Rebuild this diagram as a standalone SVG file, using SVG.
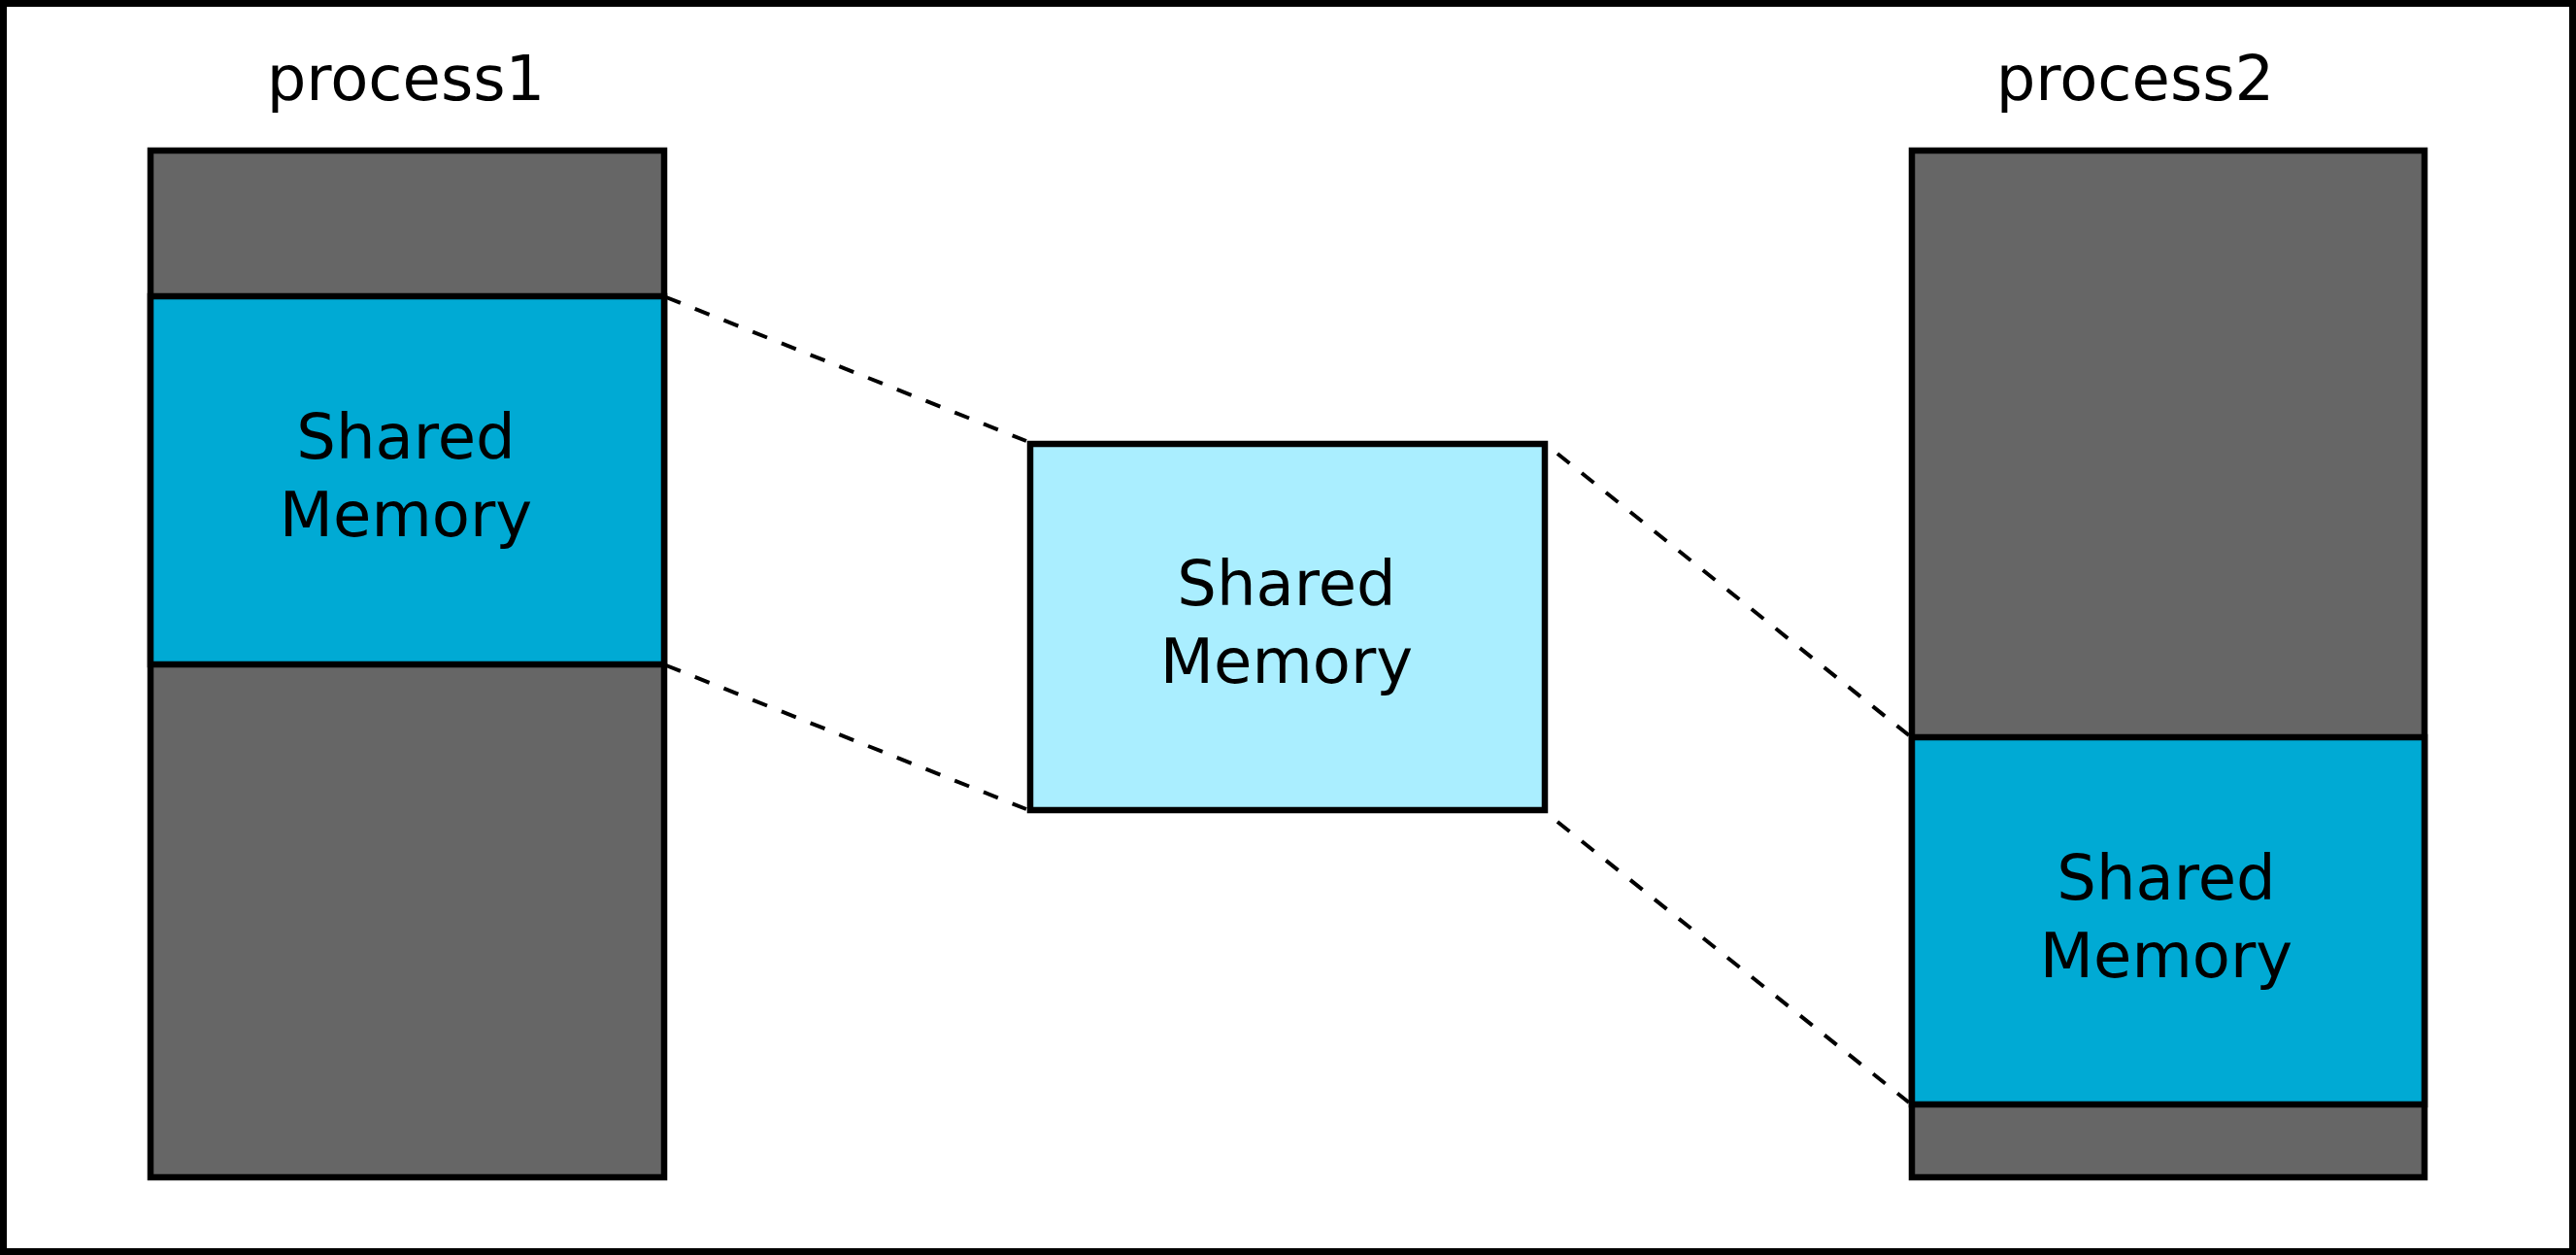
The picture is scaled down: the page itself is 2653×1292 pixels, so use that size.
<svg xmlns="http://www.w3.org/2000/svg" width="2653" height="1292" viewBox="0 0 2653 1292">
<style>
.box{stroke:#000;stroke-width:6.5}
.gray{fill:#666666}
.blue{fill:#00AAD4}
.light{fill:#AAEEFF}
.t{font-family:"DejaVu Sans",sans-serif;font-size:64px;fill:#000;text-anchor:middle}
.dash{stroke:#000;stroke-width:4;stroke-dasharray:16 16;fill:none}
</style>
<rect x="0" y="0" width="2653" height="1292" fill="#fff"/>
<rect x="3.5" y="3.5" width="2646" height="1285" fill="none" stroke="#000" stroke-width="7"/>
<g id="process1">
<text class="t" x="418" y="103">process1</text>
<rect class="box gray" x="155" y="155" width="529" height="1057"/>
<rect class="box blue" x="155" y="305" width="529" height="379"/>
<text class="t" x="418" y="472">Shared</text>
<text class="t" x="418" y="552">Memory</text>
</g>
<g id="shared">
<rect class="box light" x="1061" y="457" width="530" height="377"/>
<text class="t" x="1325" y="623">Shared</text>
<text class="t" x="1325" y="703">Memory</text>
</g>
<g id="process2">
<text class="t" x="2199" y="103">process2</text>
<rect class="box gray" x="1969" y="155" width="528" height="1057"/>
<rect class="box blue" x="1969" y="759" width="528" height="378"/>
<text class="t" x="2231" y="926">Shared</text>
<text class="t" x="2231" y="1006">Memory</text>
</g>
<g id="connectors">
<line class="dash" x1="686" y1="306" x2="1057" y2="454"/>
<line class="dash" x1="686" y1="685" x2="1057" y2="833"/>
<line class="dash" x1="1604" y1="467" x2="1966" y2="757"/>
<line class="dash" x1="1604" y1="846" x2="1966" y2="1135"/>
</g>
</svg>
